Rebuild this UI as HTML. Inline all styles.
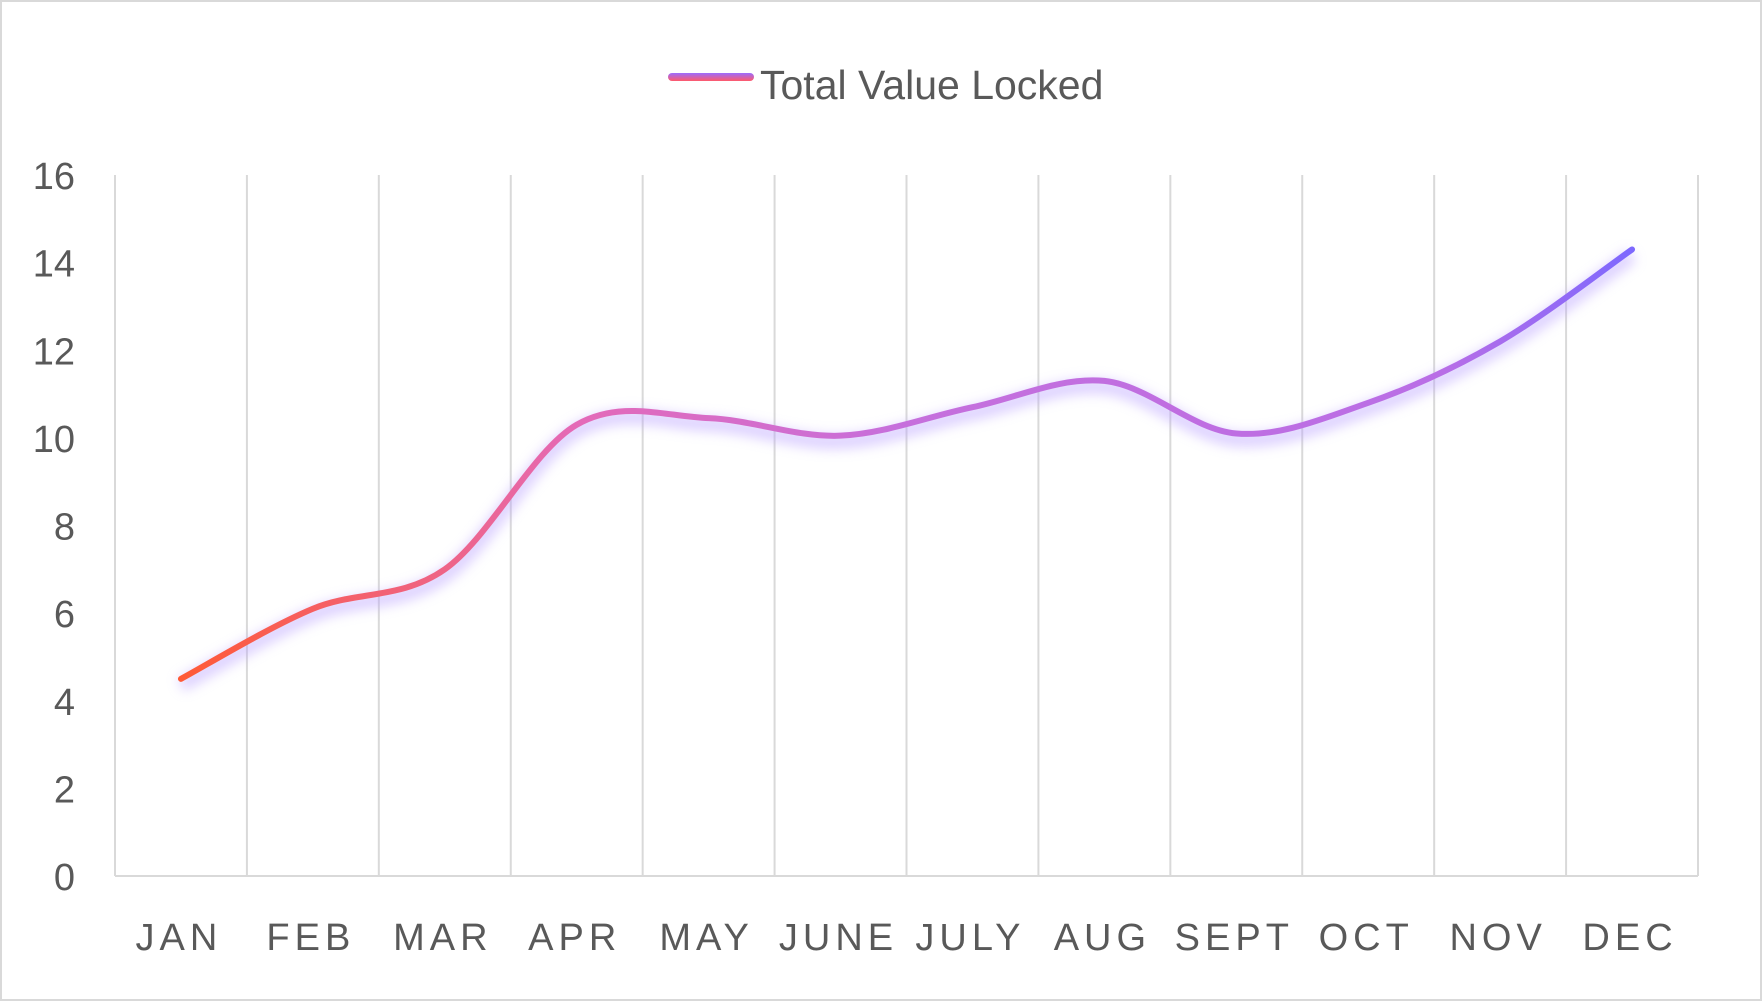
<!DOCTYPE html>
<html><head><meta charset="utf-8"><style>
html,body{margin:0;padding:0;background:#fff;}
svg{display:block;font-family:"Liberation Sans",sans-serif;}
</style></head><body>
<svg id="chart" width="1762" height="1001" viewBox="0 0 1762 1001">
<defs>
<linearGradient id="lg" gradientUnits="userSpaceOnUse" x1="180" y1="680" x2="1640" y2="250">
<stop offset="0" stop-color="#ff5a36"/>
<stop offset="0.3" stop-color="#e46ab8"/>
<stop offset="0.5" stop-color="#c66fdc"/>
<stop offset="0.85" stop-color="#b96ee6"/>
<stop offset="1" stop-color="#7b68ff"/>
</linearGradient>
<linearGradient id="lgl" gradientUnits="userSpaceOnUse" x1="0" y1="81" x2="0" y2="73">
<stop offset="0" stop-color="#ff5a6a"/><stop offset="1" stop-color="#9b6cff"/>
</linearGradient>
<filter id="glow" x="-10%" y="-20%" width="120%" height="140%"><feGaussianBlur stdDeviation="6"/></filter>
</defs>
<rect x="1" y="1" width="1760" height="999" fill="#fff" stroke="#d9d9d9" stroke-width="2"/>
<g id="grid"></g><g id="yt"></g><g id="xt"></g><g id="series"></g>
<g>
<rect x="668" y="73" width="86" height="8" rx="4" fill="url(#lgl)"/>
<text x="760" y="99" font-size="41" fill="#595959">Total Value Locked</text>
</g>
</svg>
<script>
const categories=["JAN","FEB","MAR","APR","MAY","JUNE","JULY","AUG","SEPT","OCT","NOV","DEC"];
const values=[4.5,6.1,7.0,10.3,10.45,10.05,10.7,11.3,10.1,10.8,12.2,14.3];
const yTicks=[0,2,4,6,8,10,12,14,16];
const L=115,R=1698,T=175,B=876,yMax=16;
const bw=(R-L)/categories.length;
const xs=i=>L+bw*(i+0.5);
const ys=v=>B-(B-T)*v/yMax;
const NS="http://www.w3.org/2000/svg";
function mk(tag,attrs,parent){const e=document.createElementNS(NS,tag);for(const k in attrs)e.setAttribute(k,attrs[k]);parent.appendChild(e);return e;}
const grid=document.getElementById('grid'),yt=document.getElementById('yt'),xt=document.getElementById('xt'),ser=document.getElementById('series');
for(let i=0;i<=categories.length;i++){
 const l=mk('line',{x1:L+bw*i,x2:L+bw*i,y1:T,y2:B,stroke:'#d9d9d9','stroke-width':2},grid);
 
 
}
const ax=mk('line',{x1:L,x2:R,y1:B,y2:B,stroke:'#d9d9d9','stroke-width':2},grid);


yTicks.forEach(v=>{
 const t=mk('text',{x:75,y:ys(v)+14,'text-anchor':'end','font-size':38,fill:'#595959'},yt);
 t.textContent=v;
 
 
});
categories.forEach((c,i)=>{
 const t=mk('text',{x:xs(i)-2,y:950,'text-anchor':'middle','font-size':38,fill:'#595959','letter-spacing':5},xt);
 t.textContent=c;
 
 
});
const P=values.map((v,i)=>[xs(i),ys(v)]);
let d='M'+P[0][0]+','+P[0][1];
for(let i=0;i<P.length-1;i++){
 const p0=P[Math.max(0,i-1)],p1=P[i],p2=P[i+1],p3=P[Math.min(P.length-1,i+2)];
 const k=1/6;
 d+=' C'+(p1[0]+(p2[0]-p0[0])*k)+','+(p1[1]+(p2[1]-p0[1])*k)+' '+(p2[0]-(p3[0]-p1[0])*k)+','+(p2[1]-(p3[1]-p1[1])*k)+' '+p2[0]+','+p2[1];
}
const g=mk('path',{d:d,fill:'none',stroke:'#b9a0ff','stroke-width':14,opacity:0.5,filter:'url(#glow)',transform:'translate(0,6)'},ser);


const p=mk('path',{d:d,fill:'none',stroke:'url(#lg)','stroke-width':6,'stroke-linecap':'round'},ser);


</script>
</body></html>
